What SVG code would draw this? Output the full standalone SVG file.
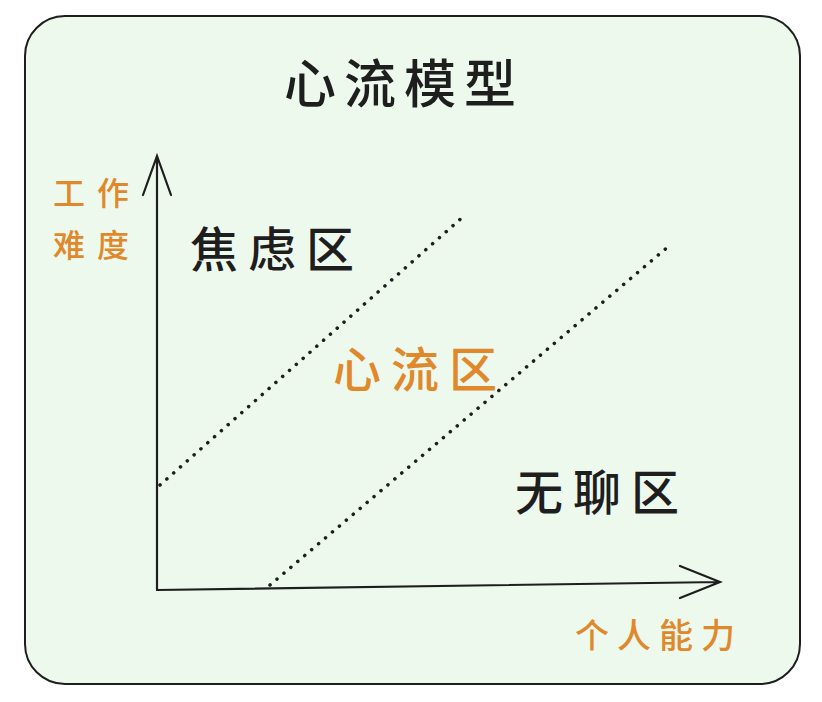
<svg xmlns="http://www.w3.org/2000/svg" width="822" height="702" viewBox="0 0 822 702">
<style>
.t{font-family:"Noto Sans CJK SC",sans-serif;font-weight:500}
.k{fill:#1e1e1e}
.o{fill:#e0892c}
.ax{stroke:#1e1e1e;stroke-width:2.2;fill:none;stroke-linecap:round}
.dot{stroke:#1e1e1e;stroke-width:3.5;stroke-dasharray:0.1 9;stroke-linecap:round;fill:none}
</style>
<rect x="25" y="16" width="775" height="668" rx="40" fill="#eef9ee" stroke="#1e1e1e" stroke-width="2"/>
<g id="title"><text class="t k" x="404" y="103" font-size="52" text-anchor="middle" letter-spacing="8">心流模型</text></g>
<g id="connectors">
<path class="ax" d="M157,590 L157,156 M143,195 L157,156 L171,195"/>
<path class="ax" d="M157,590 L720,582 M680,566 L720,582 L680,598"/>
<path class="dot" d="M160,485 L465,215"/>
<path class="dot" d="M270,585 L670,245"/>
</g>
<g id="ylabel"><text class="t o" x="53" y="205" font-size="32" letter-spacing="12">工作</text><text class="t o" x="53" y="257" font-size="32" letter-spacing="12">难度</text></g>
<g id="anxiety"><text class="t k" x="190" y="267" font-size="48" letter-spacing="10">焦虑区</text></g>
<g id="flow"><text class="t o" x="333" y="387" font-size="48" letter-spacing="10">心流区</text></g>
<g id="bored"><text class="t k" x="515" y="510" font-size="48" letter-spacing="10">无聊区</text></g>
<g id="xlabel"><text class="t o" x="575" y="648" font-size="34" letter-spacing="8">个人能力</text></g>
</svg>
